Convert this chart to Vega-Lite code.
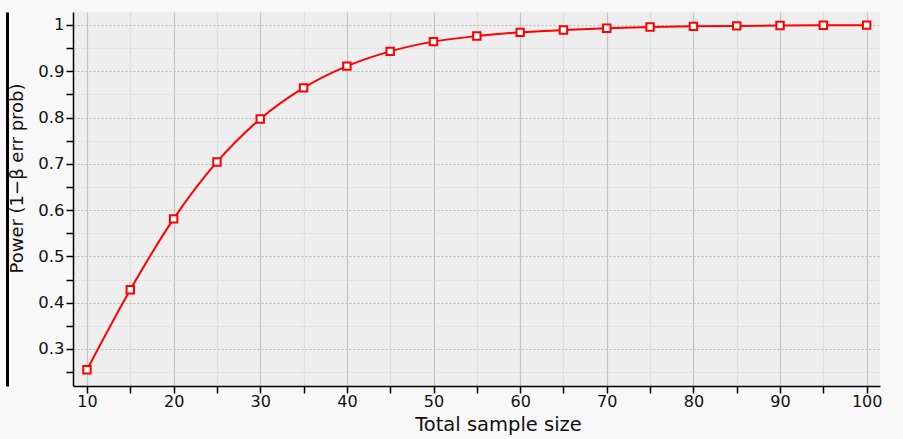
{
  "$schema": "https://vega.github.io/schema/vega-lite/v6.json",
  "width": 807,
  "height": 374,
  "autosize": {"type": "none"},
  "padding": {"left": 73, "top": 12, "right": 23, "bottom": 53},
  "background": "#f8f8f8",
  "config": {
    "view": {"fill": "#eeeeee", "stroke": null},
    "axis": {"labelFont": "DejaVu Sans", "titleFont": "DejaVu Sans", "labelFontSize": 16.5, "titleFontSize": 18, "titleFontWeight": "normal", "labelColor": "#111", "titleColor": "#111", "domainColor": "#000", "domainWidth": 1.5, "tickColor": "#000", "tickWidth": 1.5, "tickSize": 7}
  },
  "data": {"values": [
    {"n": 10, "power": 0.255},
    {"n": 15, "power": 0.428},
    {"n": 20, "power": 0.581},
    {"n": 25, "power": 0.704},
    {"n": 30, "power": 0.797},
    {"n": 35, "power": 0.864},
    {"n": 40, "power": 0.911},
    {"n": 45, "power": 0.943},
    {"n": 50, "power": 0.964},
    {"n": 55, "power": 0.976},
    {"n": 60, "power": 0.984},
    {"n": 65, "power": 0.989},
    {"n": 70, "power": 0.993},
    {"n": 75, "power": 0.9955},
    {"n": 80, "power": 0.997},
    {"n": 85, "power": 0.998},
    {"n": 90, "power": 0.9988},
    {"n": 95, "power": 0.9993},
    {"n": 100, "power": 0.9996}
  ]},
  "encoding": {
    "x": {"field": "n", "type": "quantitative",
      "scale": {"domain": [8.385, 101.54], "nice": false, "zero": false},
      "axis": {"values": [10,15,20,25,30,35,40,45,50,55,60,65,70,75,80,85,90,95,100],
        "labelExpr": "datum.value % 10 === 0 ? datum.label : ''",
        "labelFontSize": 16, "labelPadding": 0, "labelFlush": false,
        "gridColor": {"condition": {"test": "datum.value % 10 === 0", "value": "#c4c4c4"}, "value": "#dedede"},
        "gridWidth": 1.2,
        "title": "Total sample size", "titleFontSize": 19.5, "titlePadding": 0, "titleX": 425, "titleY": 44, "titleAlign": "center", "titleBaseline": "alphabetic"}}
  },
  "layer": [
    {"mark": {"type": "line", "color": "#ff0000", "strokeWidth": 2, "interpolate": "monotone"},
      "encoding": {"y": {"field": "power", "type": "quantitative",
        "scale": {"domain": [0.22, 1.028], "nice": false, "zero": false},
        "axis": {"orient": "left", "values": [0.25,0.3,0.35,0.4,0.45,0.5,0.55,0.6,0.65,0.7,0.75,0.8,0.85,0.9,0.95,1.0],
          "labelExpr": "abs(datum.value*10 - round(datum.value*10)) < 0.001 ? format(datum.value, '~g') : ''",
          "labelPadding": 2,
          "gridDash": [2, 2],
          "gridColor": {"condition": {"test": "abs(datum.value*10 - round(datum.value*10)) < 0.001", "value": "#b8b8b8"}, "value": "#d8d8d8"},
          "title": "Power (1−β err prob)", "titleX": -47, "titleY": 166, "titleAlign": "center"}}}},
    {"mark": {"type": "point", "shape": "square", "size": 55, "filled": true, "fill": "#ffffff", "stroke": "#ff0000", "strokeWidth": 2, "opacity": 1},
      "encoding": {"y": {"field": "power", "type": "quantitative", "axis": null}}},
    {"mark": {"type": "point", "opacity": 0},
      "encoding": {"y": {"field": "power", "type": "quantitative",
        "axis": {"orient": "left", "offset": 66, "labels": false, "ticks": false, "grid": false, "title": null, "domainColor": "#000", "domainWidth": 3}}}}
  ],
  "resolve": {"axis": {"y": "independent"}}
}
